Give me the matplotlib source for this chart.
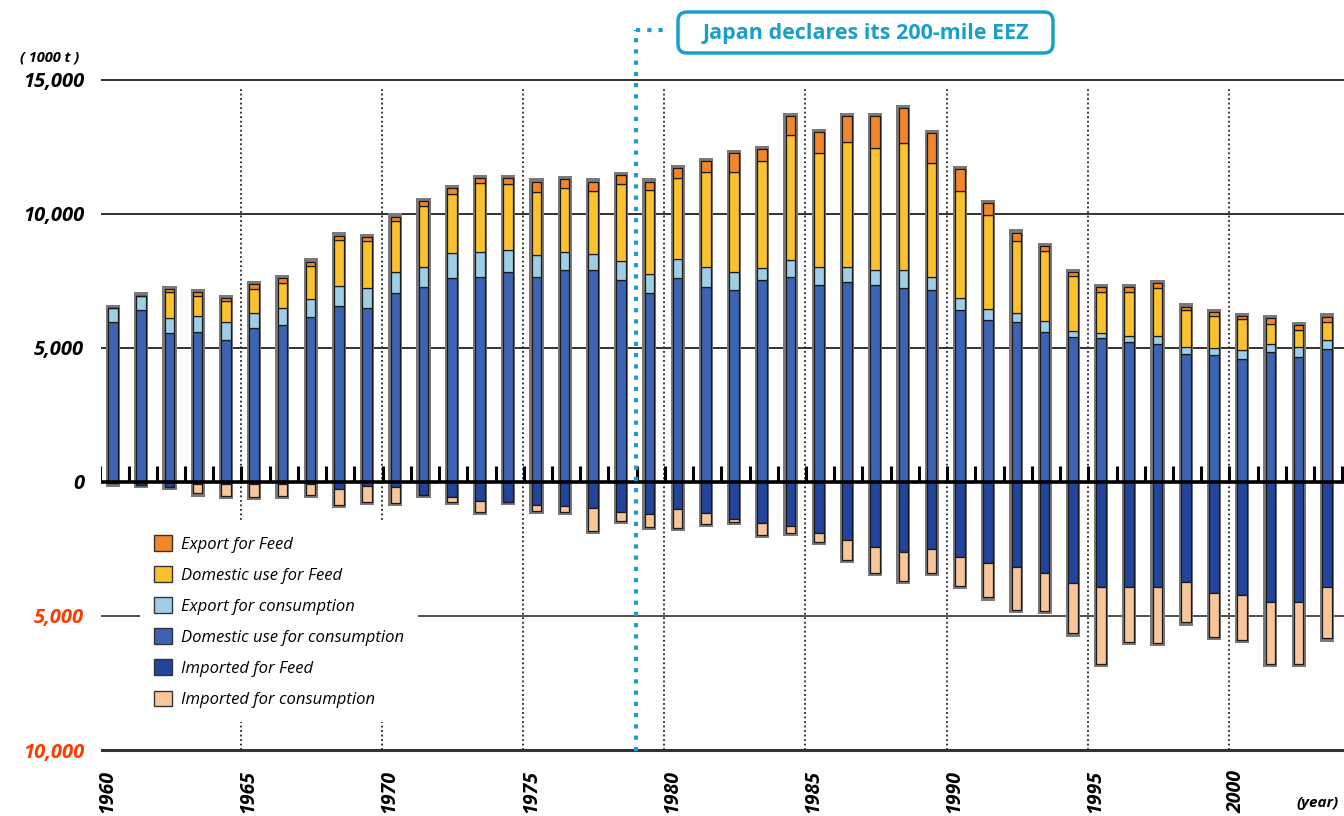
import numpy as np
import matplotlib
matplotlib.use('Agg')
import matplotlib.pyplot as plt
from matplotlib.patches import Patch, FancyBboxPatch
from matplotlib.transforms import IdentityTransform

# values in 1000 t
years = np.arange(1960, 2004)

dom_cons = np.array([5950, 6400, 5540, 5600, 5290, 5720, 5850, 6160, 6550, 6470,
                     7030, 7270, 7590, 7650, 7830, 7650, 7900, 7900, 7520, 7030,
                     7590, 7270, 7150, 7520, 7650, 7340, 7460, 7340, 7210, 7150,
                     6410, 6030, 5970, 5600, 5410, 5350, 5220, 5140, 4770, 4730,
                     4570, 4850, 4660, 4940])
exp_cons = np.array([540, 540, 560, 600, 650, 560, 630, 650, 750, 750,
                     780, 750, 950, 930, 830, 800, 650, 600, 700, 700,
                     720, 750, 680, 440, 620, 680, 560, 560, 690, 500,
                     450, 400, 310, 400, 200, 200, 200, 300, 250, 250,
                     350, 300, 350, 350])
dom_feed = np.array([0, 0, 960, 740, 800, 900, 950, 1250, 1700, 1750,
                     1900, 2250, 2200, 2550, 2460, 2350, 2390, 2350, 2900, 3150,
                     3010, 3540, 3730, 4000, 4660, 4230, 4660, 4530, 4720, 4230,
                     4000, 3500, 2700, 2600, 2050, 1530, 1650, 1800, 1370, 1220,
                     1150, 750, 650, 650])
exp_feed = np.array([0, 0, 130, 130, 100, 200, 160, 150, 180, 150,
                     180, 210, 200, 190, 200, 390, 340, 340, 320, 310,
                     370, 400, 710, 440, 710, 800, 960, 1210, 1310, 1110,
                     790, 450, 310, 190, 170, 170, 180, 160, 140, 140,
                     110, 200, 190, 220])
imp_feed = np.array([60, 120, 180, 100, 100, 100, 80, 80, 250, 150,
                     200, 500, 550, 700, 740, 850, 900, 990, 1120, 1200,
                     1030, 1180, 1400, 1550, 1650, 1900, 2170, 2420, 2610, 2520,
                     2790, 3040, 3170, 3410, 3780, 3910, 3930, 3910, 3720, 4130,
                     4220, 4470, 4470, 3910])
imp_cons = np.array([0, 0, 0, 330, 430, 460, 450, 420, 620, 600,
                     580, 0, 200, 410, 0, 240, 210, 830, 340, 480,
                     680, 390, 90, 430, 250, 330, 750, 970, 1080, 870,
                     1100, 1270, 1610, 1390, 1870, 2880, 2030, 2110, 1520, 1640,
                     1680, 2320, 2320, 1930])

labels = ['Export for Feed', 'Domestic use for Feed', 'Export for consumption',
          'Domestic use for consumption', 'Imported for Feed', 'Imported for consumption']
colors = ['#f4862a', '#fcc22e', '#9fcfe6', '#3d63b4', '#23449c', '#f9c59a']
cyan = '#1aa0c8'
red = '#ff3b00'

plt.rcParams['font.family'] = ['Open Sans', 'DejaVu Sans']

fig = plt.figure(figsize=(13.44, 8.16), dpi=100)
ax = fig.add_axes([100.7 / 1344, 54 / 816, (1344 - 100.7) / 1344, 722 / 816])
ax.set_xlim(1959.564, 2003.607)
ax.set_ylim(-10447, 16473)
for s in ax.spines.values():
    s.set_visible(False)

# horizontal rules
for v in [15000, 10000, 5000]:
    ax.axhline(v, color='#222222', lw=1.3, zorder=1)
ax.axhline(-5000, color='#333333', lw=1.2, zorder=1)
ax.axhline(-10000, color='#333333', lw=2.2, zorder=1)

# dotted year guides
for y in range(1965, 2001, 5):
    ax.plot([y - 0.47, y - 0.47], [-10000, 14700], color='#222222', lw=1.3,
            ls=(0, (1, 1.5)), zorder=1)

pos_total = dom_cons + exp_cons + dom_feed + exp_feed
neg_total = imp_feed + imp_cons

# grey shadow behind each bar
ax.bar(years, pos_total + neg_total + 240, bottom=-neg_total - 120, width=0.5,
       color='#7a7a7a', zorder=2)

kw = dict(width=0.34, edgecolor='#1a1a1a', linewidth=0.9, zorder=3)
b = np.zeros(len(years))
for vals, c in [(dom_cons, colors[3]), (exp_cons, colors[2]),
                (dom_feed, colors[1]), (exp_feed, colors[0])]:
    ax.bar(years, vals, bottom=b, color=c, **kw)
    b = b + vals
ax.bar(years, -imp_feed, bottom=0, color=colors[4], **kw)
ax.bar(years, -imp_cons, bottom=-imp_feed, color=colors[5], **kw)

# zero line with small ticks between the bars
ax.axhline(0, color='black', lw=2.6, zorder=4)
ax.vlines(np.arange(1959.55, 2004, 1), 0, 600, color='black', lw=2.2, zorder=4)

ax.set_yticks([15000, 10000, 5000, 0, -5000, -10000])
ax.set_yticklabels(['15,000', '10,000', '5,000', '0', '5,000', '10,000'],
                   fontsize=14.5, fontweight='bold', fontstyle='italic')
for t in ax.get_yticklabels()[4:]:
    t.set_color(red)
ax.tick_params(axis='y', length=0, pad=12)

ax.set_xticks(np.arange(1960, 2001, 5) - 0.2)
ax.set_xticklabels([str(y) for y in range(1960, 2001, 5)], rotation=90,
                   fontsize=14, fontweight='bold', fontstyle='italic')
ax.tick_params(axis='x', length=0, pad=6)

fig.text(20 / 1344, 1 - 58 / 816, '( 1000 t )', fontsize=10.5, fontweight='bold',
         fontstyle='italic', va='center')
fig.text(1296 / 1344, 1 - 803 / 816, '(year)', fontsize=11, fontweight='bold',
         fontstyle='italic', va='center')

handles = [Patch(facecolor=c, edgecolor='#333333', lw=1) for c in colors]
leg = ax.legend(handles, labels, loc='upper left',
                bbox_to_anchor=(140 / 1344, 1 - 521 / 816), bbox_transform=fig.transFigure,
                frameon=True, fancybox=False, framealpha=1, facecolor='white',
                edgecolor='none', prop=dict(size=12, style='italic'),
                handlelength=1.05, handleheight=1.05, handletextpad=0.55,
                labelspacing=0.82, borderpad=0.85, borderaxespad=0)
leg.set_zorder(6)

# 200-mile EEZ marker
ax.plot([1978.53, 1978.53], [-10050, 16846], color=cyan, lw=3,
        ls=(0, (1, 1.7)), dash_capstyle='butt', clip_on=False, zorder=5)
ax.plot([1978.53, 1979.66], [16846, 16846], color=cyan, lw=3,
        ls=(0, (1, 1.7)), dash_capstyle='butt', clip_on=False, zorder=5)
box = FancyBboxPatch((678, 816 - 53), 375, 41, boxstyle='round,pad=0,rounding_size=9',
                     transform=IdentityTransform(), fc='white', ec=cyan, lw=2.5)
fig.add_artist(box)
fig.text(865.5 / 1344, 1 - 33 / 816, 'Japan declares its 200-mile EEZ', color=cyan,
         fontsize=15.5, fontweight='bold', ha='center', va='center')

plt.savefig('out.png', dpi=100)
